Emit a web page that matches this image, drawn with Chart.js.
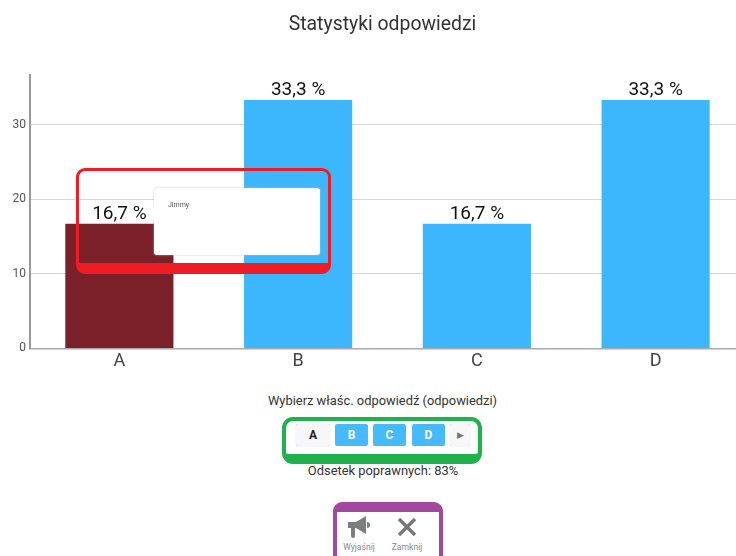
<!DOCTYPE html>
<html lang="pl">
<head>
<meta charset="utf-8">
<title>Statystyki odpowiedzi</title>
<script src="https://cdn.jsdelivr.net/npm/chart.js@4"></script>
<style>
  html, body { margin: 0; height: 100%; background: #fff; overflow: hidden; font-family: Roboto, sans-serif; }
  #wrap { position: absolute; left: 0; top: 0; width: 765px; height: 381px; }
  .abs { position: absolute; box-sizing: border-box; }
  .txt { position: absolute; white-space: nowrap; transform: translateX(-50%); }
  #tip { left: 154px; top: 188px; width: 166px; height: 67px; background: #fff; border-radius: 3px; box-shadow: 0 0 2px #bbb; }
  #tipArrow { left: 149px; top: 206px; width: 0; height: 0; border-top: 7px solid transparent; border-bottom: 7px solid transparent; border-right: 5px solid #fff; }
  #tip span { position: absolute; left: 14px; top: 13px; font-size: 7px; color: #555; }
  #redBox { left: 76px; top: 168px; width: 255px; height: 106px; border: 3px solid #ee1c25; border-bottom-width: 11px; border-radius: 9px; }
  #greenBox { left: 282px; top: 417px; width: 200px; height: 47px; border: 4px solid #1fb14c; border-bottom-width: 10px; border-radius: 11px; }
  #purpleBox { left: 333px; top: 502px; width: 110px; height: 80px; border: 4px solid #a3479f; border-top-width: 10px; border-radius: 9px; }
  .btn { position: absolute; top: 424px; height: 22px; border-radius: 2px; font-size: 12px; font-weight: 700; line-height: 22px; text-align: center; box-sizing: border-box; }
  .on { background: #3cb7ff; color: #fff; width: 33px; opacity: .95; }
  .off { background: #f7f7f9; color: #222; box-shadow: 0 0 1px #aaa; }
</style>
</head>
<body>
<div id="wrap"><canvas id="chart"></canvas></div>

<div class="abs" id="tip"><span>Jimmy</span></div>
<div class="abs" id="tipArrow"></div>
<div class="abs" id="redBox"></div>

<div class="txt" style="left:382.5px;top:393px;font-size:12.9px;color:#333">Wybierz właśc. odpowiedź (odpowiedzi)</div>
<div class="abs" id="greenBox"></div>
<div class="btn off" style="left:296px;width:34px">A</div>
<div class="btn on" style="left:335px">B</div>
<div class="btn on" style="left:373px">C</div>
<div class="btn on" style="left:412px">D</div>
<div class="btn off" style="left:450px;width:20px;font-size:9px;font-weight:400;color:#777">&#9654;</div>
<div class="txt" style="left:383px;top:463px;font-size:12.9px;color:#333">Odsetek poprawnych: 83%</div>

<div class="abs" id="purpleBox"></div>
<svg class="abs" style="left:345px;top:515px" width="28" height="26" viewBox="0 0 28 26">
  <path d="M3 7h8l10-6v18l-10-6H3z" fill="#7d7d7d"/>
  <path d="M6 13h4v8a2 2 0 0 1-4 0z" fill="#7d7d7d"/>
  <path d="M22 7a3 3 0 0 1 0 6z" fill="#7d7d7d"/>
</svg>
<svg class="abs" style="left:397px;top:517px" width="20" height="20" viewBox="0 0 20 20">
  <path d="M2 2l16 16M18 2L2 18" stroke="#777" stroke-width="3.4" fill="none"/>
</svg>
<div class="txt" style="left:359px;top:542px;font-size:8.6px;color:#888">Wyjaśnij</div>
<div class="txt" style="left:407px;top:542px;font-size:8.6px;color:#888">Zamknij</div>

<script>
const categories = ['A', 'B', 'C', 'D'];
const shares = [16.7, 33.3, 16.7, 33.3];
const shareLabels = ['16,7 %', '33,3 %', '16,7 %', '33,3 %'];
const barColors = ['#7b1f28', '#3cb7ff', '#3cb7ff', '#3cb7ff'];
const yTop = 36.6;

// percentage text above each bar
const barLabels = {
  id: 'barLabels',
  afterDatasetsDraw(chart) {
    const { ctx } = chart;
    ctx.save();
    ctx.font = '19px Roboto';
    ctx.fillStyle = '#111';
    ctx.textAlign = 'center';
    ctx.textBaseline = 'bottom';
    chart.getDatasetMeta(0).data.forEach((bar, i) => {
      ctx.fillText(shareLabels[i], bar.x, bar.y);
    });
    ctx.restore();
  }
};

// the right padding only belongs to the plot, the title is centred on the whole canvas
const wideTitle = {
  id: 'wideTitle',
  afterLayout(chart) {
    chart.titleBlock.right = chart.width;
  }
};

new Chart(document.getElementById('chart'), {
  type: 'bar',
  data: {
    labels: categories,
    datasets: [{ data: shares, backgroundColor: barColors, barPercentage: 0.605, categoryPercentage: 1 }]
  },
  options: {
    responsive: true,
    maintainAspectRatio: false,
    animation: false,
    layout: { padding: { left: 0, right: 20, top: 0, bottom: 0 } },
    plugins: {
      legend: { display: false },
      tooltip: { enabled: false },
      title: {
        display: true,
        text: 'Statystyki odpowiedzi',
        color: '#333',
        font: { family: 'Roboto', size: 19.4, weight: 'normal' },
        padding: { top: 14, bottom: 38.1 }
      }
    },
    scales: {
      x: {
        afterFit(scale) { scale.height = 32.6; },
        grid: { display: false, drawTicks: false },
        border: { color: '#aaa', width: 1.5 },
        ticks: { color: '#444', font: { family: 'Roboto', size: 18 }, padding: 2 }
      },
      y: {
        min: 0,
        max: yTop,
        afterFit(scale) { scale.width = 30; },
        grid: { color: '#d6d6d6', drawTicks: false },
        border: { color: '#999', width: 2 },
        ticks: { stepSize: 10, includeBounds: false, color: '#555', font: { family: 'Roboto', size: 12 }, padding: 4 }
      }
    }
  },
  plugins: [barLabels, wideTitle]
});
</script>
</body>
</html>
